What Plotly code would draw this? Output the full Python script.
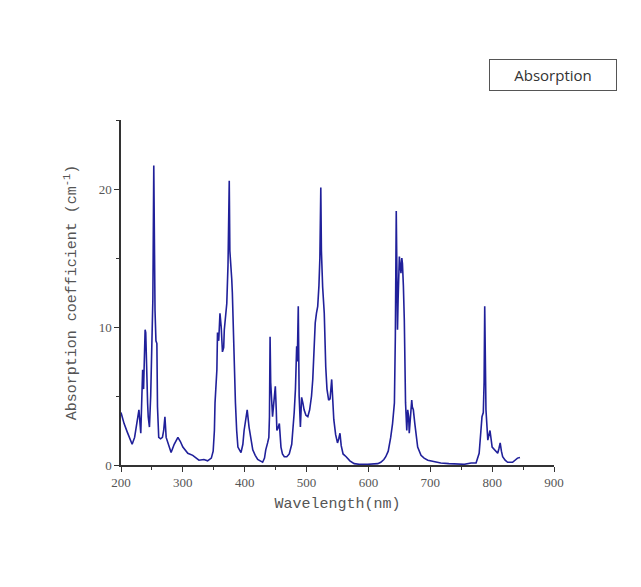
import plotly.graph_objects as go

wavelength = [200, 205, 210, 215, 218, 222, 226, 229, 232, 235, 236.5, 238, 239, 240, 241.5, 243, 244, 246, 248, 250,
              251.5, 253, 254, 255, 256.5, 258, 259, 261, 264, 267, 269, 271, 273, 276, 281, 286, 292, 296, 300, 308,
              316, 326, 334, 340, 346, 349, 351, 352, 354, 355, 356, 358, 360, 362, 364, 366, 367, 369, 371, 373,
              375, 376, 377, 379, 380, 381.6, 383, 385, 387, 389, 394, 397, 399, 402, 404, 407, 410, 413, 417, 421,
              425, 429, 432, 434, 437, 439, 440, 441, 442, 443.6, 445, 447, 449.5, 451, 452, 454, 456, 458.6, 461, 464,
              468, 472, 476, 480, 482, 484, 485, 486.6, 488, 490, 492, 494, 496, 499, 502, 505, 508, 510, 512, 514,
              516, 518, 520, 521.5, 523, 524, 526, 528.6, 531, 533, 535.7, 538, 540.6, 542, 544, 547, 550, 552, 554, 556,
              559, 564, 570, 577, 585, 599, 610, 615, 620, 625, 628, 632, 636, 639, 642, 643.5, 645, 646, 647, 648,
              650, 651, 652.6, 654, 655, 656.5, 658, 660, 662, 663.5, 665, 666, 668, 670, 671, 672.6, 675, 677, 679.6, 685,
              690, 696, 705, 717, 730, 744, 755, 766, 774, 779, 782, 783.6, 785.7, 787, 788, 789, 790, 793, 796.5, 800,
              803.5, 806, 809, 811, 813, 815, 817, 821, 825, 833, 838, 841, 845]
absorption = [3.8, 3.0, 2.4, 1.8, 1.5, 2.0, 3.2, 4.0, 2.3, 6.9, 5.5, 9.3, 9.8, 9.6, 6.0, 4.5, 3.5, 2.75, 5.0, 10.5,
              12.0, 21.7, 16.0, 11.2, 9.0, 8.8, 4.2, 2.0, 1.9, 2.0, 2.5, 3.5, 2.0, 1.6, 0.9, 1.5, 2.0, 1.7, 1.3, 0.85,
              0.7, 0.35, 0.4, 0.3, 0.5, 1.0, 2.5, 4.5, 6.0, 6.9, 9.6, 9.0, 11.0, 10.0, 8.2, 8.5, 9.8, 11.0, 11.7, 14.5,
              20.6, 15.5, 14.4, 13.5, 12.5, 9.8, 7.0, 4.5, 2.5, 1.3, 0.9, 1.5, 2.5, 3.5, 4.0, 2.75, 1.8, 1.1, 0.7, 0.4,
              0.3, 0.2, 0.5, 1.1, 1.6, 2.0, 3.5, 9.3, 6.0, 3.8, 3.5, 4.5, 5.7, 4.0, 2.5, 2.7, 3.0, 1.3, 0.8, 0.6,
              0.6, 0.8, 1.5, 3.8, 5.5, 8.6, 7.5, 11.5, 5.0, 2.75, 4.9, 4.5, 4.0, 3.6, 3.5, 4.0, 5.0, 6.2, 8.5, 10.3,
              11.0, 11.5, 13.0, 15.0, 20.1, 15.5, 12.9, 11.0, 7.1, 5.5, 4.7, 4.8, 6.2, 4.5, 3.3, 2.2, 1.6, 1.9, 2.3, 1.4,
              0.8, 0.6, 0.3, 0.1, 0.05, 0.05, 0.1, 0.1, 0.2, 0.4, 0.6, 1.0, 2.0, 3.0, 4.5, 9.3, 18.4, 14.0, 9.8, 12.0,
              15.1, 14.6, 13.9, 15.0, 14.6, 13.0, 10.5, 4.5, 2.5, 4.0, 3.5, 2.3, 3.8, 4.7, 4.2, 4.0, 3.0, 2.2, 1.3, 0.7,
              0.5, 0.35, 0.25, 0.15, 0.1, 0.05, 0.05, 0.15, 0.15, 0.85, 2.5, 3.5, 3.8, 6.0, 11.5, 6.0, 4.0, 1.8, 2.5, 1.3,
              1.1, 1.0, 0.85, 1.2, 1.6, 1.0, 0.6, 0.35, 0.2, 0.2, 0.35, 0.5, 0.55]

x_ticks = [200, 300, 400, 500, 600, 700, 800, 900]
y_ticks = [0, 10, 20]

fig = go.Figure()
fig.add_trace(go.Scatter(x=wavelength, y=absorption, mode="lines",
                         line=dict(color="#20209a", width=1.6), name="Absorption",
                         showlegend=False))

tickfont = dict(family="Liberation Serif", size=13, color="#555")
titlefont = dict(family="Liberation Mono", size=15, color="#555")

fig.update_layout(
    width=641, height=587,
    margin=dict(l=113, r=95, t=112, b=130),
    paper_bgcolor="white", plot_bgcolor="white",
    xaxis=dict(range=[200, 900], tickvals=x_ticks, ticks="outside", ticklen=5, tickwidth=1.3,
               tickcolor="#333", showline=True, linecolor="#333", linewidth=1.5,
               showgrid=False, zeroline=False, tickfont=tickfont,
               minor=dict(dtick=50, ticks="outside", ticklen=3, tickcolor="#333", tickwidth=1.3),
               title=dict(text="Wavelength(nm)", font=titlefont, standoff=8)),
    yaxis=dict(range=[0, 25], tickvals=y_ticks, ticks="outside", ticklen=5, tickwidth=1.3,
               tickcolor="#333", showline=True, linecolor="#333", linewidth=1.5,
               showgrid=False, zeroline=False, tickfont=tickfont,
               minor=dict(tickvals=[5, 15, 25], ticks="outside", ticklen=3, tickcolor="#333", tickwidth=1.3),
               title=dict(text="Absorption coefficient (cm<sup>-1</sup>)", font=titlefont, standoff=18)),
    annotations=[dict(text="Absorption", xref="paper", yref="paper", x=0.998, y=1.13,
                      xanchor="center", yanchor="middle", showarrow=False,
                      font=dict(family="Open Sans", size=15, color="#333"),
                      bordercolor="#555", borderwidth=1, borderpad=5, width=116)],
)

fig.write_html("out.html")
